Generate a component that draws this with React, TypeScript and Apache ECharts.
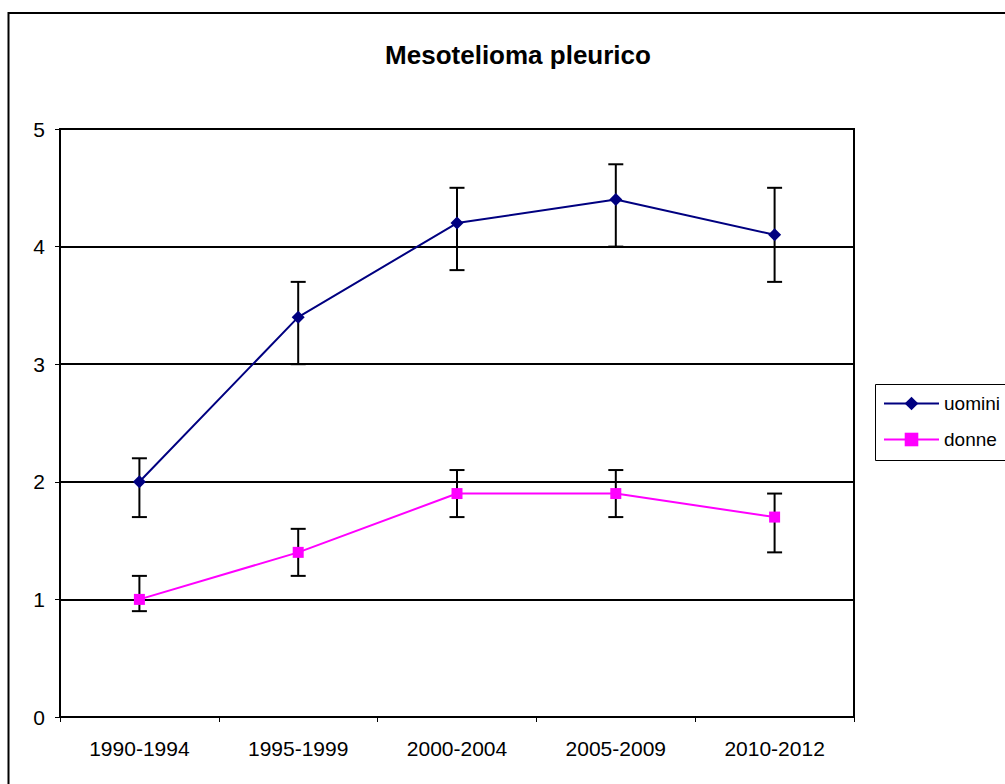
import React, { useEffect, useRef } from "react";
import * as echarts from "echarts";

const categories = ["1990-1994", "1995-1999", "2000-2004", "2005-2009", "2010-2012"];
const uominiValues = [2.0, 3.4, 4.2, 4.4, 4.1];
const uominiLow = [1.7, 3.0, 3.8, 4.0, 3.7];
const uominiHigh = [2.2, 3.7, 4.5, 4.7, 4.5];
const donneValues = [1.0, 1.4, 1.9, 1.9, 1.7];
const donneLow = [0.9, 1.2, 1.7, 1.7, 1.4];
const donneHigh = [1.2, 1.6, 2.1, 2.1, 1.9];
const title = "Mesotelioma pleurico";

const FONT = "Arial, 'Liberation Sans', sans-serif";

function errorSeries(low: number[], high: number[]) {
  return {
    type: "custom",
    z: 1,
    silent: true,
    data: low.map((l, i) => [i, l, high[i]]),
    renderItem: (params: any, api: any) => {
      const x = api.value(0);
      const lo = api.coord([x, api.value(1)]);
      const hi = api.coord([x, api.value(2)]);
      const hw = 7.5;
      const style = { stroke: "#000", lineWidth: 2 };
      return {
        type: "group",
        children: [
          { type: "line", shape: { x1: lo[0], y1: lo[1], x2: hi[0], y2: hi[1] }, style },
          { type: "line", shape: { x1: lo[0] - hw, y1: lo[1], x2: lo[0] + hw, y2: lo[1] }, style },
          { type: "line", shape: { x1: hi[0] - hw, y1: hi[1], x2: hi[0] + hw, y2: hi[1] }, style },
        ],
      };
    },
    encode: { x: 0, y: [1, 2] },
  };
}

export default function App() {
  const ref = useRef<HTMLDivElement>(null);
  useEffect(() => {
    if (!ref.current) return;
    const chart = echarts.init(ref.current, null, { renderer: "svg" });
    chart.setOption({
      animation: false,
      backgroundColor: "#fff",
      textStyle: { fontFamily: FONT },
      title: {
        text: title,
        left: 513,
        textAlign: "center",
        top: 37,
        textStyle: { fontFamily: FONT, fontWeight: "bold", fontSize: 26, color: "#000" },
      },
      grid: {
        left: 60,
        top: 129,
        width: 794,
        height: 588,
        show: true,
        borderColor: "#000",
        borderWidth: 2,
        backgroundColor: "transparent",
      },
      legend: {
        orient: "vertical",
        left: 883,
        top: 394,
        padding: 0,
        itemWidth: 55,
        itemHeight: 17,
        itemGap: 17,
        data: ["uomini", "donne"],
        textStyle: { fontFamily: FONT, fontSize: 19, color: "#000" },
      },
      xAxis: {
        type: "category",
        data: categories,
        boundaryGap: true,
        axisLine: { show: true, lineStyle: { color: "#000", width: 2 } },
        axisTick: { show: true, length: 5, lineStyle: { color: "#000", width: 1 } },
        axisLabel: { fontFamily: FONT, fontSize: 21, color: "#000", margin: 21 },
        splitLine: { show: false },
      },
      yAxis: {
        type: "value",
        min: 0,
        max: 5,
        interval: 1,
        axisLine: { show: true, lineStyle: { color: "#000", width: 2 } },
        axisTick: { show: true, length: 5, lineStyle: { color: "#000", width: 1 } },
        axisLabel: { fontFamily: FONT, fontSize: 21, color: "#000", margin: 15 },
        splitLine: { show: true, lineStyle: { color: "#000", width: 2 } },
      },
      graphic: [
        {
          type: "rect",
          shape: { x: 8.5, y: 13, width: 1200, height: 1000 },
          style: { fill: "none", stroke: "#000", lineWidth: 2 },
          silent: true,
        },
        {
          type: "rect",
          shape: { x: 875.5, y: 384.5, width: 300, height: 76 },
          style: { fill: "#fff", stroke: "#000", lineWidth: 1 },
          silent: true,
          z: -1,
        },
      ],
      series: [
        errorSeries(uominiLow, uominiHigh),
        errorSeries(donneLow, donneHigh),
        {
          name: "uomini",
          type: "line",
          z: 3,
          data: uominiValues,
          symbol: "diamond",
          symbolSize: 13,
          itemStyle: { color: "#000080" },
          lineStyle: { color: "#000080", width: 2 },
        },
        {
          name: "donne",
          type: "line",
          z: 3,
          data: donneValues,
          symbol: "rect",
          symbolSize: 11,
          itemStyle: { color: "#FF00FF" },
          lineStyle: { color: "#FF00FF", width: 2 },
        },
      ],
    });
    return () => chart.dispose();
  }, []);
  return (
    <div
      ref={ref}
      style={{ position: "fixed", left: 0, top: 0, width: 1005, height: 784 }}
    />
  );
}
